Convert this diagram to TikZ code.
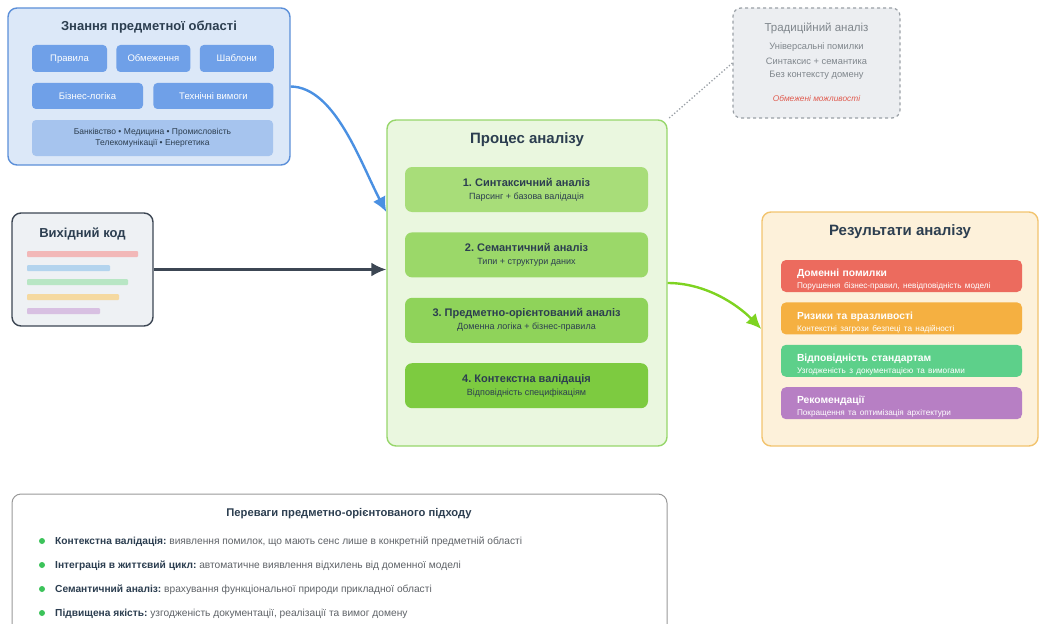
\documentclass[tikz,border=0pt]{standalone}
\usepackage{fontspec}
\setmainfont{Liberation Sans}
\usetikzlibrary{positioning,arrows.meta}
\frenchspacing

\definecolor{ink}{HTML}{2C3E50}
\definecolor{knfill}{HTML}{DCE8F8}
\definecolor{knline}{HTML}{5B8FD9}
\definecolor{tagblue}{HTML}{6FA0E8}
\definecolor{taglight}{HTML}{A6C4EE}
\definecolor{codefill}{HTML}{EEF1F4}
\definecolor{codeline}{HTML}{3C4653}
\definecolor{barred}{HTML}{F2B8B8}
\definecolor{barblue}{HTML}{B3D4EE}
\definecolor{bargreen}{HTML}{B8E6C4}
\definecolor{baryellow}{HTML}{F5D9A0}
\definecolor{barpurple}{HTML}{D8C0E2}
\definecolor{procfill}{HTML}{EAF7DF}
\definecolor{procline}{HTML}{97D66B}
\definecolor{stepA}{HTML}{A8DD79}
\definecolor{stepB}{HTML}{9BD869}
\definecolor{stepC}{HTML}{8FD35A}
\definecolor{stepD}{HTML}{7DCB40}
\definecolor{tradfill}{HTML}{ECEEF1}
\definecolor{tradline}{HTML}{9AA0A6}
\definecolor{tradtext}{HTML}{7F868C}
\definecolor{tradred}{HTML}{E05A4E}
\definecolor{resfill}{HTML}{FDF1DA}
\definecolor{resline}{HTML}{F2C46F}
\definecolor{resred}{HTML}{EC6B5E}
\definecolor{resorange}{HTML}{F5B041}
\definecolor{resgreen}{HTML}{5DD08A}
\definecolor{respurple}{HTML}{B77FC4}
\definecolor{arrblue}{HTML}{4A90E2}
\definecolor{arrgreen}{HTML}{7ED321}
\definecolor{dotgreen}{HTML}{3CC35A}
\definecolor{bentext}{HTML}{5F6368}

\begin{document}
\begin{tikzpicture}[x=1pt, y=-1pt,
  panel/.style={draw, rounded corners=9pt, line width=1.4pt},
  ptitle/.style={font=\bfseries\fontsize{13}{15}\selectfont, text=ink},
  tag/.style={fill=tagblue, rounded corners=4pt, text=white, text height=1.5ex, text depth=.25ex,
              font=\fontsize{9.5}{11}\selectfont, minimum height=27pt, inner sep=0pt},
  stepbox/.style={rounded corners=7pt, minimum width=243pt, minimum height=45pt,
                  align=center, text=ink, inner sep=0pt},
  resbox/.style={rounded corners=5pt, minimum width=241pt, minimum height=32pt,
                 text width=209pt, text height=15pt, align=left, text=white, inner sep=0pt},
  tradtxt/.style={text=tradtext, font=\fontsize{9.3}{11}\selectfont},
  benefit/.style={anchor=west, inner sep=0pt, text height=1.5ex, text depth=.25ex,
                  text=bentext, font=\fontsize{10.2}{12}\selectfont},
  >={Latex[length=15pt,width=14pt]}
]
\clip (0,0) rectangle (1040,623);
\useasboundingbox (0,0) rectangle (1040,623);

% Domain knowledge
\node[panel, draw=knline, fill=knfill, minimum width=282pt, minimum height=157pt] (know) at (149,86.5) {};
\node[ptitle] (know_t) at (149,27) {Знання предметної області};
\node[tag, minimum width=75pt] (rules) at (69.5,58.5) {Правила};
\node[tag, minimum width=74pt, right=9pt of rules] (limits) {Обмеження};
\node[tag, minimum width=74pt, right=9pt of limits] (patterns) {Шаблони};
\node[tag, minimum width=111pt, minimum height=26pt] (logic) at (87.5,96) {Бізнес-логіка};
\node[tag, minimum width=120pt, minimum height=26pt, right=10pt of logic] (techreq) {Технічні вимоги};
\node[fill=taglight, rounded corners=4pt, text=ink, minimum width=241pt, minimum height=36pt,
      inner sep=0pt, align=center, font=\fontsize{8.5}{10.5}\selectfont] (fields) at (152.5,138)
  {Банківство • Медицина • Промисловість\\Телекомунікації • Енергетика};

% Source code
\node[panel, draw=codeline, fill=codefill, minimum width=141pt, minimum height=113pt] (code) at (82.5,269.5) {};
\node[ptitle] (code_t) at (82.5,234) {Вихідний код};
\fill[barred, rounded corners=1pt] (27,251) rectangle (138,257);
\fill[barblue, rounded corners=1pt] (27,265) rectangle (110,271);
\fill[bargreen, rounded corners=1pt] (27,279) rectangle (128,285);
\fill[baryellow, rounded corners=1pt] (27,294) rectangle (119,300);
\fill[barpurple, rounded corners=1pt] (27,308) rectangle (100,314);

% Analysis process
\node[panel, draw=procline, fill=procfill, minimum width=280pt, minimum height=326pt] (proc) at (527,283) {};
\node[ptitle, font=\bfseries\fontsize{15}{17}\selectfont] (proc_t) at (527,140) {Процес аналізу};
\node[stepbox, fill=stepA] (syn) at (526.5,189.5)
  {{\bfseries\fontsize{11}{13}\selectfont 1. Синтаксичний аналіз}\\[1pt]{\fontsize{9}{11}\selectfont Парсинг + базова валідація}};
\node[stepbox, fill=stepB, below=20pt of syn] (sem)
  {{\bfseries\fontsize{11}{13}\selectfont 2. Семантичний аналіз}\\[1pt]{\fontsize{9}{11}\selectfont Типи + структури даних}};
\node[stepbox, fill=stepC, below=20pt of sem] (dom)
  {{\bfseries\fontsize{11}{13}\selectfont 3. Предметно-орієнтований аналіз}\\[1pt]{\fontsize{9}{11}\selectfont Доменна логіка + бізнес-правила}};
\node[stepbox, fill=stepD, below=20pt of dom] (ctx)
  {{\bfseries\fontsize{11}{13}\selectfont 4. Контекстна валідація}\\[1pt]{\fontsize{9}{11}\selectfont Відповідність специфікаціям}};

% Traditional analysis
\node[draw=tradline, dashed, line width=1.2pt, fill=tradfill, rounded corners=8pt,
      minimum width=167pt, minimum height=110pt] (trad) at (816.5,63) {};
\node[tradtxt, font=\fontsize{11.5}{13}\selectfont] (trad_t) at (816.5,28) {Традиційний аналіз};
\node[tradtxt] (trad1) at (816.5,47) {Універсальні помилки};
\node[tradtxt] (trad2) at (816.5,61) {Синтаксис + семантика};
\node[tradtxt] (trad3) at (816.5,75) {Без контексту домену};
\node[text=tradred, font=\itshape\fontsize{8.3}{10}\selectfont] (trad4) at (816.5,98) {Обмежені можливості};

% Results
\node[panel, draw=resline, fill=resfill, minimum width=276pt, minimum height=234pt] (res) at (900,329) {};
\node[ptitle, font=\bfseries\fontsize{15}{17}\selectfont] (res_t) at (900,232) {Результати аналізу};
\node[resbox, fill=resred] (errs) at (901.5,276)
  {{\bfseries\fontsize{10.3}{11}\selectfont Доменні помилки}\\{\fontsize{8.2}{10}\selectfont Порушення бізнес-правил, невідповідність моделі}};
\node[resbox, fill=resorange, below=10pt of errs] (risks)
  {{\bfseries\fontsize{10.3}{11}\selectfont Ризики та вразливості}\\{\fontsize{8.2}{10}\selectfont Контекстні загрози безпеці та надійності}};
\node[resbox, fill=resgreen, below=10pt of risks] (stds)
  {{\bfseries\fontsize{10.3}{11}\selectfont Відповідність стандартам}\\{\fontsize{8.2}{10}\selectfont Узгодженість з документацією та вимогами}};
\node[resbox, fill=respurple, below=10pt of stds] (recs)
  {{\bfseries\fontsize{10.3}{11}\selectfont Рекомендації}\\{\fontsize{8.2}{10}\selectfont Покращення та оптимізація архітектури}};

% Benefits
\draw[draw=gray!80, line width=1pt, fill=white, rounded corners=9pt] (12,494) rectangle (667,640);
\node[ptitle, font=\bfseries\fontsize{11.2}{13}\selectfont] (ben_t) at (349,514) {Переваги предметно-орієнтованого підходу};
\node[benefit] (b1) at (55,541) {\textbf{\color{ink}Контекстна валідація:} виявлення помилок, що мають сенс лише в конкретній предметній області};
\node[benefit] (b2) at (55,565) {\textbf{\color{ink}Інтеграція в життєвий цикл:} автоматичне виявлення відхилень від доменної моделі};
\node[benefit] (b3) at (55,589) {\textbf{\color{ink}Семантичний аналіз:} врахування функціональної природи прикладної області};
\node[benefit] (b4) at (55,613) {\textbf{\color{ink}Підвищена якість:} узгодженість документації, реалізації та вимог домену};
\fill[dotgreen] (42,541) circle (3pt) (42,565) circle (3pt) (42,589) circle (3pt) (42,613) circle (3pt);

% Connections
\draw[->, arrblue, line width=2.4pt] (know.east) .. controls (335,87) and (361,164) .. ([yshift=71pt]proc.west);
\draw[->, codeline, line width=2.4pt] (code.east) -- (code.east -| proc.west);
\draw[->, arrgreen, line width=2.4pt] (proc.east) .. controls (705,283) and (737,304) .. (res.west);
\draw[tradline, dotted, line width=1.3pt] (trad.west) -- (proc.north east);

\end{tikzpicture}
\end{document}
